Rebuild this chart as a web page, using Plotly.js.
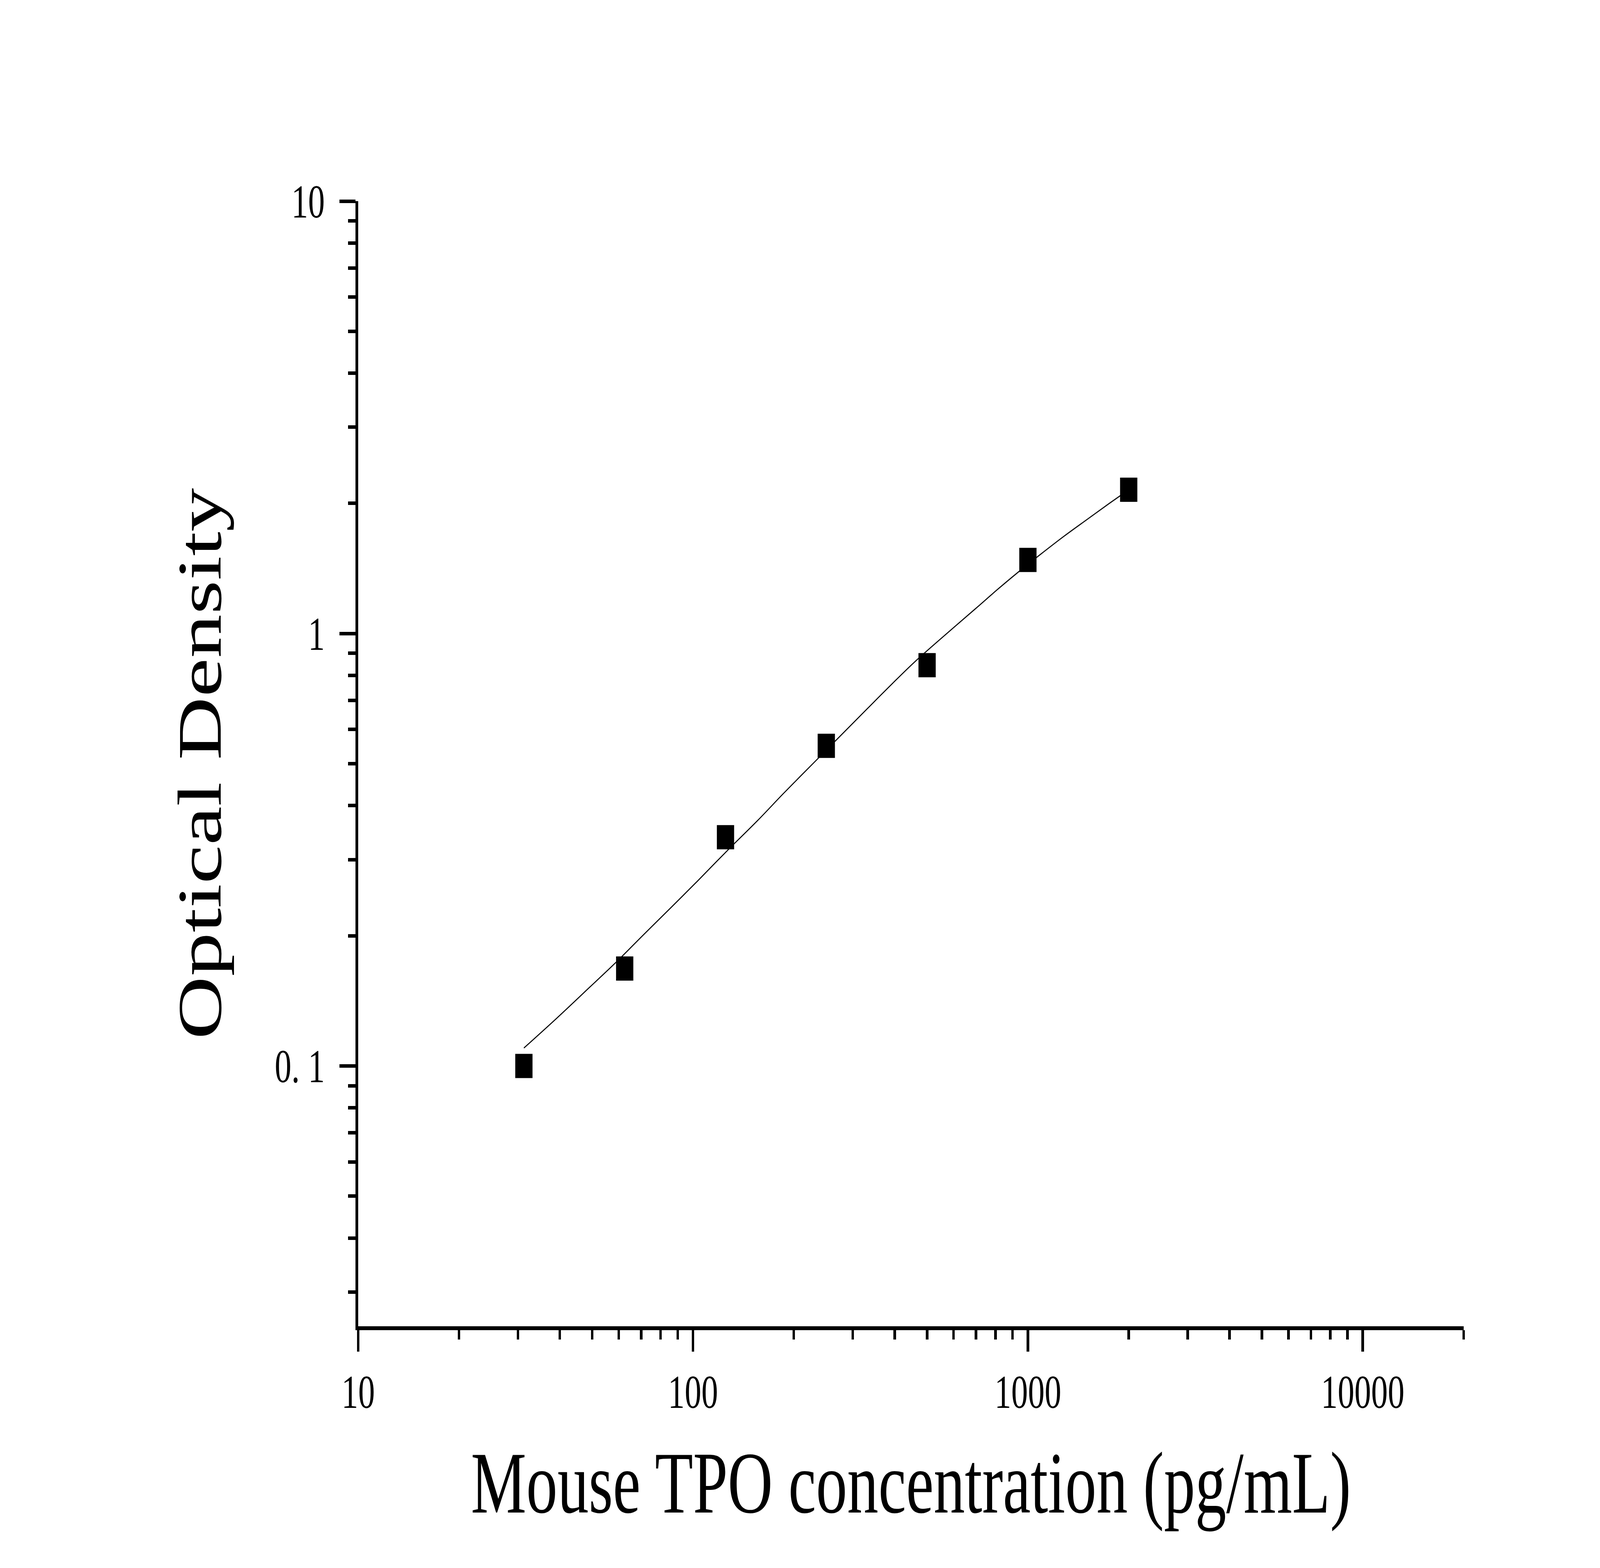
<!DOCTYPE html>
<html>
<head>
<meta charset="utf-8">
<script src="https://cdn.plot.ly/plotly-3.0.1.min.js"></script>
<style>
  html, body { margin: 0; padding: 0; background: #fff; overflow: hidden; }
  #grafico { width: 5749px; height: 4015px; transform-origin: 0 0; }
</style>
</head>
<body>
<div id="grafico"></div>
<script>
// puntos del estandar (pg/mL vs OD)
const conc = [31.25, 62.5, 125, 250, 500, 1000, 2000];
const od = [0.100, 0.168, 0.338, 0.550, 0.845, 1.480, 2.150];

// curva ajustada
const curvaX = [31.25, 39.2, 49.1, 58.6, 71.1, 86.2, 102.8, 126.7, 156.2, 186.4, 229.7, 278, 332, 391, 460, 601, 708, 809, 939, 1089, 1282, 1510, 1751, 1887, 2000];
const curvaY = [0.110, 0.129, 0.152, 0.173, 0.201, 0.233, 0.267, 0.315, 0.370, 0.427, 0.503, 0.584, 0.671, 0.762, 0.861, 1.033, 1.153, 1.262, 1.390, 1.523, 1.679, 1.841, 2.000, 2.083, 2.150];

// ticks
const xTickVals = [10, 100, 1000, 10000];
const xTickText = ['10', '100', '1000', '10000'];
const yTickVals = [0.1, 1, 10];
const yTickText = ['0. 1', '1', '10'];

const xTitulo = 'Mouse TPO concentration (pg/mL)';
const yTitulo = 'Optical Density';

const fuente = 'Liberation Serif, Times New Roman, serif';

// tamaño del original
const W = 5749, H = 4015;

// minor ticks 2..9 en cada decada
let minorX = [];
for (let d = 10; d <= 10000; d *= 10) {
  for (let k = 2; k <= 9; k++) {
    if (d * k <= 20000) minorX.push(d * k);
  }
}
let minorY = [];
for (let d of [0.01, 0.1, 1]) {
  for (let k = 2; k <= 9; k++) {
    let v = +(d * k).toFixed(3);
    if (v >= 0.025) minorY.push(v);
  }
}

const data = [
  {
    x: curvaX, y: curvaY,
    type: 'scatter', mode: 'lines',
    line: { color: 'black', width: 3, shape: 'spline', smoothing: 1 },
    hoverinfo: 'skip'
  },
  {
    x: conc, y: od,
    type: 'scatter', mode: 'markers',
    marker: { symbol: 'square', size: 62, color: 'black' }
  }
];

const ejeComun = {
  type: 'log',
  ticks: 'outside',
  tickwidth: 9,
  tickcolor: 'black',
  showline: true,
  linewidth: 10,
  linecolor: 'black',
  showgrid: false,
  zeroline: false,
  tickmode: 'array',
  tickfont: { family: fuente, size: 120, color: 'black' }
};

const layout = {
  width: W,
  height: H,
  margin: { l: 1287, r: 490, t: 515, b: 619, pad: 0 },
  paper_bgcolor: 'white',
  plot_bgcolor: 'white',
  showlegend: false,
  font: { family: fuente, color: 'black' },
  xaxis: Object.assign({}, ejeComun, {
    range: [1, Math.log10(20000) + 0.0002],
    tickvals: xTickVals,
    ticktext: xTickText,
    ticklen: 55,
    minor: { tickmode: 'array', tickvals: minorX, ticks: 'outside', ticklen: 24, tickwidth: 9, tickcolor: 'black', showgrid: false },
    title: { text: xTitulo, font: { family: fuente, size: 224, color: 'black' }, standoff: 90 }
  }),
  yaxis: Object.assign({}, ejeComun, {
    range: [Math.log10(0.025), 1],
    tickvals: yTickVals,
    ticktext: yTickText,
    ticklen: 58,
    ticklabelstandoff: 28,
    minor: { tickmode: 'array', tickvals: minorY, ticks: 'outside', ticklen: 26, tickwidth: 9, tickcolor: 'black', showgrid: false },
    title: { text: yTitulo, font: { family: fuente, size: 224, color: 'black' }, standoff: 120 }
  })
};

// la ventana real puede ser mas chica que el original: se escala el grafico entero
const div = document.getElementById('grafico');
const sx = window.innerWidth / W, sy = window.innerHeight / H;
if (Math.abs(sx - 1) > 0.001 || Math.abs(sy - 1) > 0.001) {
  div.style.transform = 'scale(' + sx + ',' + sy + ')';
}

Plotly.newPlot(div, data, layout, { staticPlot: true });
</script>
</body>
</html>
